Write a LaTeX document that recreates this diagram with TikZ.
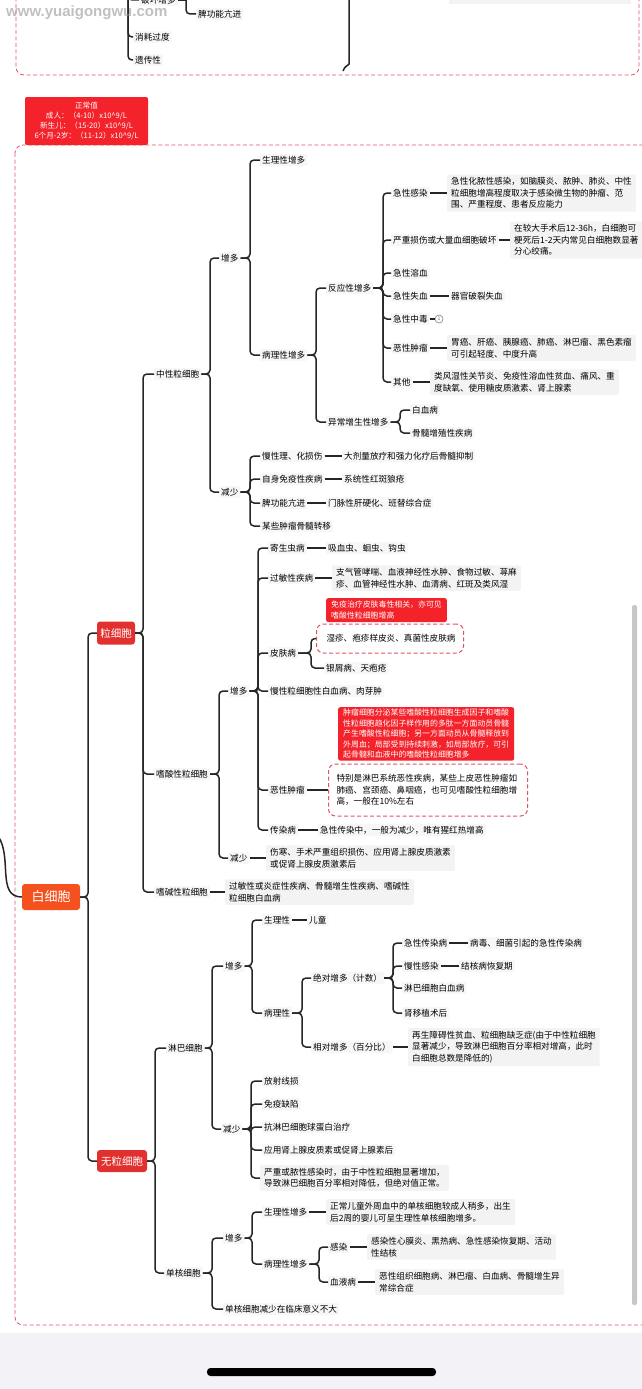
\documentclass[tikz,border=0pt]{standalone}
\usepackage{fontspec}
\setmainfont{Noto Sans CJK SC}
\newfontfamily\wmfont{Liberation Sans}
\usetikzlibrary{calc}
\definecolor{rootc}{HTML}{F4511E}
\definecolor{catred}{HTML}{E2302F}
\definecolor{notered}{HTML}{F3222B}
\definecolor{dashred}{HTML}{DD5566}
\definecolor{boxbg}{HTML}{F3F3F3}
\definecolor{phonebg}{HTML}{F2F2F7}
\tikzset{
  lbl/.style={anchor=west, inner sep=2pt, font=\fontsize{8.6}{11.5}\selectfont,
    fill=boxbg!70, rounded corners=1pt},
  txtbox/.style={lbl, inner xsep=4pt, inner ysep=3pt, align=left, fill=boxbg},
  callout/.style={anchor=north west, fill=notered, text=white,
    font=\fontsize{7.9}{10.5}\selectfont, inner xsep=5pt, inner ysep=3pt,
    align=left, rounded corners=2pt},
  cat/.style={fill=catred, text=white, rounded corners=3pt,
    font=\fontsize{10.5}{12}\selectfont, inner sep=0pt},
  link/.style={line width=1.5pt, rounded corners=4pt, black!85},
  dashbox/.style={draw=dashred, dash pattern=on 4pt off 2.5pt, line width=0.8pt,
    rounded corners=8pt},
  dashnode/.style={txtbox, fill=white, draw=dashred, dash pattern=on 4pt off 2.5pt,
    line width=1pt, rounded corners=7pt}
}
% 父节点 -> 子节点（竖线位置 #2）
\newcommand{\mmfork}[3]{%
  \foreach \kid in {#3}{\draw[link] (#1.east) -- (#1.east -| #2,0) |- (\kid.west);}}

\begin{document}
\begin{tikzpicture}[x=1pt,y=-1pt]
  \clip (0,0) rectangle (642,1389);
  \fill[white] (0,0) rectangle (642,1333);
  \fill[phonebg] (0,1333) rectangle (642,1389);
  \fill[black, rounded corners=3.5pt] (207,1368) rectangle (436,1376);

  % 上一部分（被截断）
  \draw[dashbox] (16,-30) rectangle (639,75);
  \fill[boxbg] (449,-10) rectangle (631,4);
  \node[lbl] (pohuai) at (139,0) {破坏增多};
  \node[lbl] (pgkj) at (196,14) {脾功能亢进};
  \node[lbl] (xhgd) at (133,37) {消耗过度};
  \node[lbl] (ycx) at (133,60) {遗传性};
  \coordinate (oldT) at (128,-30);
  \coordinate (phT) at (186,-30);
  \coordinate (arcTop) at (349,-10);
  \coordinate (arcEnd) at (343,71);
  \foreach \kid in {pohuai,xhgd,ycx} \draw[link] (oldT) |- (\kid.west);
  \draw[link] (pohuai.east) -- (pohuai.east -| 186,0);
  \draw[link] (phT) |- (pgkj.west);
  \draw[link] (arcTop) -- (349,60) to[out=-90,in=75] (arcEnd);

  % 主框
  \draw[dashbox] (15,145) rectangle (660,1325);
  \fill[black!22, rounded corners=2pt] (632,605) rectangle (637,1305);
  \node[fill=notered, text=white, font=\fontsize{7.6}{10.3}\selectfont, align=center,
    minimum width=123pt, minimum height=48pt, inner sep=1pt, rounded corners=2pt]
    (zcz) at (86.5,121) {正常值\\成人：（4-10）x10\textasciicircum{}9/L\\
    新生儿：（15-20）x10\textasciicircum{}9/L\\6个月-2岁：（11-12）x10\textasciicircum{}9/L};

  % 根与一级
  \coordinate (inL) at (-2,836);
  \node[cat, fill=rootc, minimum width=58pt, minimum height=26pt,
    font=\fontsize{13}{15}\selectfont] (root) at (51,897) {白细胞};
  \node[cat, minimum width=38pt, minimum height=23pt] (lxb) at (116,633) {粒细胞};
  \node[cat, minimum width=50pt, minimum height=22pt] (wlxb) at (122,1161) {无粒细胞};
  \draw[link] (inL) to[out=-55,in=180] (root.west);

  % 粒细胞
  \node[lbl] (zx) at (154,374) {中性粒细胞};
  \node[lbl] (ss) at (154,774) {嗜酸性粒细胞};
  \node[lbl] (sj) at (154,892) {嗜碱性粒细胞};
  \node[txtbox] (sjbox) at (225,892) {过敏性或炎症性疾病、骨髓增生性疾病、嗜碱性\\粒细胞白血病};

  % 中性粒细胞
  \node[lbl] (zxup) at (219,258) {增多};
  \node[lbl] (zxdn) at (219,492) {减少};
  \node[lbl] (slzd) at (260,160) {生理性增多};
  \node[lbl] (blzd) at (260,355) {病理性增多};
  \node[lbl] (fyx) at (326,288) {反应性增多};
  \node[lbl] (yczs) at (326,422) {异常增生性增多};
  \node[lbl] (jxgr) at (391,193) {急性感染};
  \node[lbl] (yzss) at (391,240) {严重损伤或大量血细胞破坏};
  \node[lbl] (jxrx) at (391,273) {急性溶血};
  \node[lbl] (jxsx) at (391,296) {急性失血};
  \node[lbl] (jxzd) at (391,319) {急性中毒};
  \node[lbl] (exzl) at (391,348) {恶性肿瘤};
  \node[lbl] (qt) at (391,382) {其他};
  \node[txtbox] (jxgrbox) at (447,193) {急性化脓性感染，如脑膜炎、脓肿、肺炎、中性\\
    粒细胞增高程度取决于感染微生物的肿瘤、范\\围、严重程度、患者反应能力};
  \node[txtbox] (yzssbox) at (510,240) {在较大手术后12-36h，白细胞可\\
    梗死后1-2天内常见白细胞数显著\\分心绞痛。};
  \node[lbl] (qgpl) at (449,296) {器官破裂失血};
  \node[circle, draw=black!50, line width=0.6pt, inner sep=0pt, minimum size=8pt,
    font=\fontsize{5}{5}\selectfont, text=black!60] (jxzdn) at (439,319) {1};
  \node[txtbox] (exzlbox) at (447,348) {胃癌、肝癌、胰腺癌、肺癌、淋巴瘤、黑色素瘤\\可引起轻度、中度升高};
  \node[txtbox] (qtbox) at (430,382) {类风湿性关节炎、免疫性溶血性贫血、痛风、重\\
    度缺氧、使用糖皮质激素、肾上腺素};
  \node[lbl] (bxb) at (410,410) {白血病};
  \node[lbl] (gszz) at (410,433) {骨髓增殖性疾病};
  \node[lbl] (mxl) at (260,456) {慢性理、化损伤};
  \node[lbl] (zsmy) at (260,479) {自身免疫性疾病};
  \node[lbl] (pgn) at (260,503) {脾功能亢进};
  \node[lbl] (mxzl) at (260,526) {某些肿瘤骨髓转移};
  \node[lbl] (mxlR) at (342,456) {大剂量放疗和强力化疗后骨髓抑制};
  \node[lbl] (zsmyR) at (342,479) {系统性红斑狼疮};
  \node[lbl] (pgnR) at (326,503) {门脉性肝硬化、班替综合症};

  % 嗜酸性粒细胞
  \node[lbl] (ssup) at (228,691) {增多};
  \node[lbl] (ssdn) at (228,858) {减少};
  \node[lbl] (jsc) at (268,548) {寄生虫病};
  \node[lbl] (jscR) at (326,548) {吸血虫、蛔虫、钩虫};
  \node[lbl] (gmx) at (268,578) {过敏性疾病};
  \node[txtbox] (gmxbox) at (332,578) {支气管哮喘、血液神经性水肿、食物过敏、荨麻\\
    疹、血管神经性水肿、血清病、红斑及类风湿};
  \node[lbl] (pfb) at (268,653) {皮肤病};
  \node[callout] (pfnote) at (326,598) {免疫治疗皮肤毒性相关，亦可见\\嗜酸性粒细胞增高};
  \node[dashnode, text width=127pt, inner xsep=10pt, minimum height=29pt] (sz) at (316,638.5)
    {湿疹、疱疹样皮炎、真菌性皮肤病};
  \node[lbl] (yxb) at (324,668) {银屑病、天疱疮};
  \node[lbl] (mxlx) at (268,691) {慢性粒细胞性白血病、肉芽肿};
  \node[callout, inner ysep=2pt] (zlnote) at (338,707) {肿瘤细胞分泌某些嗜酸性粒细胞生成因子和嗜酸\\
    性粒细胞趋化因子样作用的多肽一方面动员骨髓\\产生嗜酸性粒细胞；另一方面动员从骨髓释放到\\
    外周血；局部受到持续刺激，如局部放疗，可引\\起骨髓和血液中的嗜酸性粒细胞增多};
  \node[lbl] (exzl2) at (268,790) {恶性肿瘤};
  \node[dashnode, text width=183pt, inner xsep=8pt, minimum height=52pt] (exzl2box) at (328,790)
    {特别是淋巴系统恶性疾病，某些上皮恶性肿瘤如\\肺癌、宫颈癌、鼻咽癌，也可见嗜酸性粒细胞增\\高，一般在10\%左右};
  \node[lbl] (crb) at (268,830) {传染病};
  \node[lbl] (crbR) at (318,830) {急性传染中，一般为减少，唯有猩红热增高};
  \node[txtbox] (ssdnbox) at (266,858) {伤寒、手术严重组织损伤、应用肾上腺皮质激素\\或促肾上腺皮质激素后};

  % 无粒细胞
  \node[lbl] (lb) at (166,1048) {淋巴细胞};
  \node[lbl] (dh) at (164,1273) {单核细胞};
  \node[lbl] (lbup) at (223,966) {增多};
  \node[lbl] (lbdn) at (221,1129) {减少};
  \node[lbl] (lbsl) at (262,920) {生理性};
  \node[lbl] (lbslR) at (307,920) {儿童};
  \node[lbl] (lbbl) at (262,1013) {病理性};
  \node[lbl] (jdzd) at (311,978) {绝对增多（计数）};
  \node[lbl] (xdzd) at (311,1047) {相对增多（百分比）};
  \node[txtbox] (xdzdbox) at (408,1047) {再生障碍性贫血、粒细胞缺乏症(由于中性粒细胞\\
    显著减少，导致淋巴细胞百分率相对增高，此时\\白细胞总数是降低的)};
  \node[lbl] (jxcrb) at (402,943) {急性传染病};
  \node[lbl] (jxcrbR) at (468,943) {病毒、细菌引起的急性传染病};
  \node[lbl] (mxgr) at (402,966) {慢性感染};
  \node[lbl] (mxgrR) at (459,966) {结核病恢复期};
  \node[lbl] (lbbx) at (402,988) {淋巴细胞白血病};
  \node[lbl] (syz) at (402,1013) {肾移植术后};
  \node[lbl] (fs) at (262,1081) {放射线损};
  \node[lbl] (myqx) at (262,1104) {免疫缺陷};
  \node[lbl] (kl) at (262,1127) {抗淋巴细胞球蛋白治疗};
  \node[lbl] (yysx) at (262,1150) {应用肾上腺皮质素或促肾上腺素后};
  \node[txtbox] (yzgr) at (260,1178) {严重或脓性感染时，由于中性粒细胞显著增加，\\
    导致淋巴细胞百分率相对降低，但绝对值正常。};
  \node[lbl] (dhup) at (223,1238) {增多};
  \node[lbl] (dhdn) at (223,1309) {单核细胞减少在临床意义不大};
  \node[lbl] (dhsl) at (262,1212) {生理性增多};
  \node[txtbox] (dhslbox) at (326,1212) {正常儿童外周血中的单核细胞较成人稍多，出生\\
    后2周的婴儿可呈生理性单核细胞增多。};
  \node[lbl] (dhbl) at (262,1264) {病理性增多};
  \node[lbl] (gr) at (328,1247) {感染};
  \node[txtbox] (grbox) at (367,1247) {感染性心膜炎、黑热病、急性感染恢复期、活动\\性结核};
  \node[lbl] (xyb) at (328,1282) {血液病};
  \node[txtbox] (xybbox) at (375,1282) {恶性组织细胞病、淋巴瘤、白血病、骨髓增生异\\常综合症};

  % 连线
  \mmfork{root}{88}{lxb,wlxb}
  \mmfork{lxb}{143}{zx,ss,sj}
  \mmfork{zx}{210}{zxup,zxdn}
  \mmfork{zxup}{250}{slzd,blzd}
  \mmfork{blzd}{316}{fyx,yczs}
  \mmfork{fyx}{383}{jxgr,yzss,jxrx,jxsx,jxzd,exzl,qt}
  \mmfork{yczs}{400}{bxb,gszz}
  \mmfork{zxdn}{250}{mxl,zsmy,pgn,mxzl}
  \mmfork{ss}{219}{ssup,ssdn}
  \mmfork{ssup}{258}{jsc,gmx,pfb,mxlx,exzl2,crb}
  \mmfork{pfb}{311}{sz,yxb}
  \mmfork{wlxb}{155}{lb,dh}
  \mmfork{lb}{212}{lbup,lbdn}
  \mmfork{lbup}{252}{lbsl,lbbl}
  \mmfork{lbbl}{302}{jdzd,xdzd}
  \mmfork{jdzd}{393}{jxcrb,mxgr,lbbx,syz}
  \mmfork{lbdn}{251}{fs,myqx,kl,yysx,yzgr}
  \mmfork{dh}{212}{dhup,dhdn}
  \mmfork{dhup}{252}{dhsl,dhbl}
  \mmfork{dhbl}{319}{gr,xyb}
  \foreach \a/\b in {sj/sjbox, jxgr/jxgrbox, yzss/yzssbox, jxsx/qgpl, jxzd/jxzdn,
      exzl/exzlbox, qt/qtbox, mxl/mxlR, zsmy/zsmyR, pgn/pgnR, jsc/jscR, gmx/gmxbox,
      exzl2/exzl2box, crb/crbR, ssdn/ssdnbox, lbsl/lbslR, xdzd/xdzdbox,
      jxcrb/jxcrbR, mxgr/mxgrR, dhsl/dhslbox, gr/grbox, xyb/xybbox}
    \draw[link] (\a.east) -- (\b.west);

  % 水印
  \node[anchor=west, inner sep=0pt, text=black!35, opacity=0.7,
    font=\wmfont\bfseries\fontsize{15}{15}\selectfont] (wm) at (6,13) {www.yuaigongwu.com};
\end{tikzpicture}
\end{document}
